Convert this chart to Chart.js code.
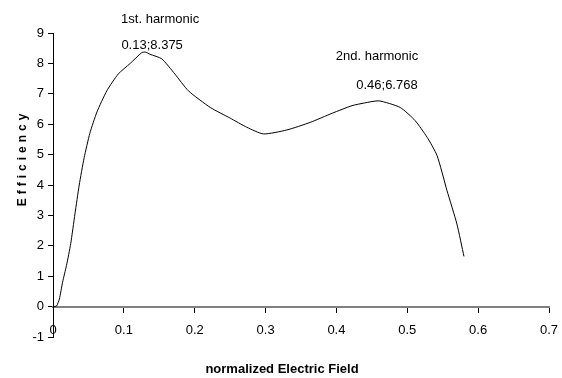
<!DOCTYPE html>
<html>
<head>
<meta charset="utf-8">
<script src="https://cdn.jsdelivr.net/npm/chart.js@4"></script>
<style>
  body { margin: 0; background: #fff; }
</style>
</head>
<body>
<canvas id="effChart" width="562" height="378"></canvas>
<script>
// normalized field (x) and efficiency (y)
const fieldValues = [0, 0.005, 0.009, 0.0135, 0.019, 0.025, 0.031, 0.037, 0.044, 0.052, 0.062, 0.076, 0.092, 0.109, 0.125, 0.13, 0.137, 0.1535, 0.172, 0.191, 0.222, 0.25, 0.2735, 0.297, 0.33, 0.363, 0.394, 0.422, 0.44, 0.46, 0.49, 0.511, 0.528, 0.542, 0.556, 0.57, 0.58];
const efficiency = [0, 0.02, 0.25, 0.8, 1.35, 2.07, 3.05, 4.0, 4.9, 5.7, 6.4, 7.1, 7.65, 8.0, 8.35, 8.375, 8.3, 8.15, 7.65, 7.1, 6.55, 6.2, 5.9, 5.68, 5.81, 6.06, 6.36, 6.61, 6.7, 6.768, 6.55, 6.12, 5.57, 4.97, 3.82, 2.72, 1.65];

// peaks that get labelled
const peakNames = ["1st. harmonic", "2nd. harmonic"];
const peakX = [0.13, 0.46];
const peakY = [8.375, 6.768];

const xTitle = "normalized Electric Field";
const yTitle = "Efficiency";

const FONT = '"Liberation Sans", Arial, sans-serif';

const ctx = document.getElementById("effChart").getContext("2d");

// labels above the peaks + axis titles
const labelsPlugin = {
  id: "labels",
  afterDraw(chart) {
    const c = chart.ctx;
    const xs = chart.scales.x;
    const ys = chart.scales.y;
    // offsets of the name / value text from each peak point
    const nameOff = [[15, -33], [-2, -44]];
    const valOff = [[7, -7], [8, -15]];
    c.save();
    c.fillStyle = "#000";
    c.textAlign = "center";
    c.textBaseline = "middle";
    c.font = "13px " + FONT;
    peakX.forEach((px, i) => {
      const x = xs.getPixelForValue(px);
      const y = ys.getPixelForValue(peakY[i]);
      c.fillText(peakNames[i], x + nameOff[i][0], y + nameOff[i][1]);
      c.fillText(px + ";" + peakY[i], x + valOff[i][0], y + valOff[i][1]);
    });

    c.font = "bold 13px " + FONT;
    c.fillText(xTitle, 282, 369);

    c.translate(23, 160);
    c.rotate(-Math.PI / 2);
    c.font = "bold 12px " + FONT;
    c.letterSpacing = "4px";
    c.fillText(yTitle, 2, 0);
    c.restore();
  }
};

const chart = new Chart(ctx, {
  type: "scatter",
  data: {
    datasets: [{
      data: fieldValues.map((x, i) => ({ x: x, y: efficiency[i] })),
      showLine: true,
      borderColor: "#000",
      borderWidth: 1,
      pointRadius: 0,
      tension: 0.2
    }]
  },
  options: {
    responsive: false,
    animation: false,
    layout: { padding: { top: 33, right: 13, bottom: 41, left: 0 } },
    plugins: { legend: { display: false }, tooltip: { enabled: false } },
    scales: {
      x: {
        type: "linear",
        position: { y: 0 },
        min: 0,
        max: 0.7,
        ticks: { stepSize: 0.1, padding: 11, color: "#000", font: { family: FONT, size: 13 } },
        grid: { drawOnChartArea: false, tickLength: 5, color: "#000" },
        border: { color: "#808080", width: 2 },
        afterFit(scale) { scale.paddingLeft = 0; scale.paddingRight = 0; }
      },
      y: {
        min: -1,
        max: 9,
        ticks: { stepSize: 1, padding: 4, color: "#000", font: { family: FONT, size: 13 } },
        grid: { drawOnChartArea: false, tickLength: 5, color: "#000" },
        border: { color: "#000", width: 1 },
        afterFit(scale) { scale.width = 53; }
      }
    }
  },
  plugins: [labelsPlugin]
});
</script>
</body>
</html>
